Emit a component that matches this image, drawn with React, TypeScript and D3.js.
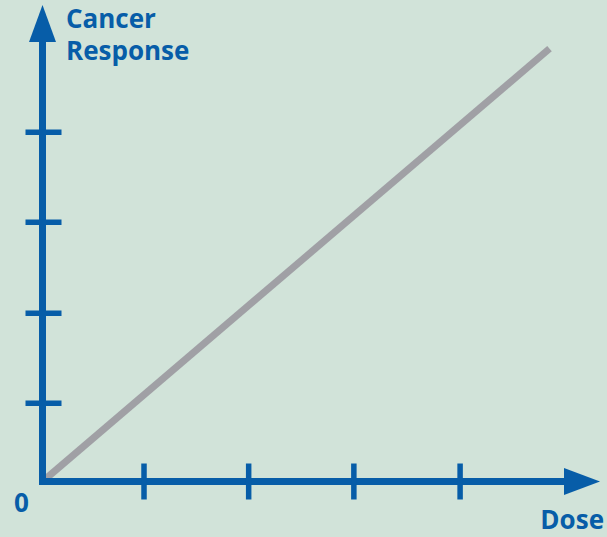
import { useEffect, useRef } from 'react';
import * as d3 from 'd3';

// data (units of one tick spacing)
const xTicks = [0.965, 1.96, 2.96, 3.97];
const yTicks = [0.87, 1.87, 2.88, 3.88];
const doseValues = [0, 4.82];
const responseValues = [0, 4.81];

const W = 607;
const H = 537;
const BG = '#d1e3d9';
const BLUE = '#075da8';
const GRAY = '#a0a0a5';
const FONT = '"Open Sans", Lato, sans-serif';

export default function App() {
  const ref = useRef<SVGSVGElement | null>(null);

  useEffect(() => {
    const svg = d3.select(ref.current);
    svg.selectAll('*').remove();

    const x = d3.scaleLinear().domain([0, 5.3]).range([42.5, 600]);
    const y = d3.scaleLinear().domain([0, 5.3]).range([481.5, 4.5]);
    const x0 = x(0);
    const y0 = y(0);

    svg.append('rect').attr('width', W).attr('height', H).attr('fill', BG);

    // linear dose-response line
    const pts = doseValues.map((d, i) => [d, responseValues[i]] as [number, number]);
    svg
      .append('path')
      .attr('d', d3.line().x(d => x(d[0])).y(d => y(d[1]))(pts))
      .attr('stroke', GRAY)
      .attr('stroke-width', 7)
      .attr('fill', 'none');

    const axes = svg.append('g');

    // y axis shaft + arrow
    axes
      .append('line')
      .attr('x1', x0).attr('x2', x0)
      .attr('y1', y0 + 3.5).attr('y2', 42)
      .attr('stroke', BLUE).attr('stroke-width', 7);
    axes
      .append('path')
      .attr('d', `M${x0},5 L${x0 - 13.5},42 L${x0 + 13.5},42 Z`)
      .attr('fill', BLUE);

    // x axis shaft + arrow
    axes
      .append('line')
      .attr('x1', x0 - 3.5).attr('x2', 564)
      .attr('y1', y0).attr('y2', y0)
      .attr('stroke', BLUE).attr('stroke-width', 7);
    axes
      .append('path')
      .attr('d', `M600,${y0} L564,${y0 - 13.5} L564,${y0 + 13.5} Z`)
      .attr('fill', BLUE);

    // ticks
    axes
      .selectAll('line.xt')
      .data(xTicks)
      .enter()
      .append('line')
      .attr('class', 'xt')
      .attr('x1', d => x(d)).attr('x2', d => x(d))
      .attr('y1', y0 - 18).attr('y2', y0 + 18)
      .attr('stroke', BLUE).attr('stroke-width', 5.5);
    axes
      .selectAll('line.yt')
      .data(yTicks)
      .enter()
      .append('line')
      .attr('class', 'yt')
      .attr('x1', x0 - 17).attr('x2', x0 + 19)
      .attr('y1', d => y(d)).attr('y2', d => y(d))
      .attr('stroke', BLUE).attr('stroke-width', 5.5);

    // labels
    const label = (t: string, lx: number, ly: number, anchor = 'start') =>
      svg
        .append('text')
        .attr('x', lx)
        .attr('y', ly)
        .attr('text-anchor', anchor)
        .attr('fill', BLUE)
        .attr('font-family', FONT)
        .attr('font-weight', 700)
        .attr('font-size', 26)
        .text(t);

    label('Cancer', 66, 28);
    label('Response', 66, 60);
    label('0', 21.5, 512, 'middle');
    label('Dose', 604, 529, 'end');
  }, []);

  return (
    <svg
      ref={ref}
      width={W}
      height={H}
      style={{ position: 'absolute', left: 0, top: 0, display: 'block' }}
    />
  );
}
